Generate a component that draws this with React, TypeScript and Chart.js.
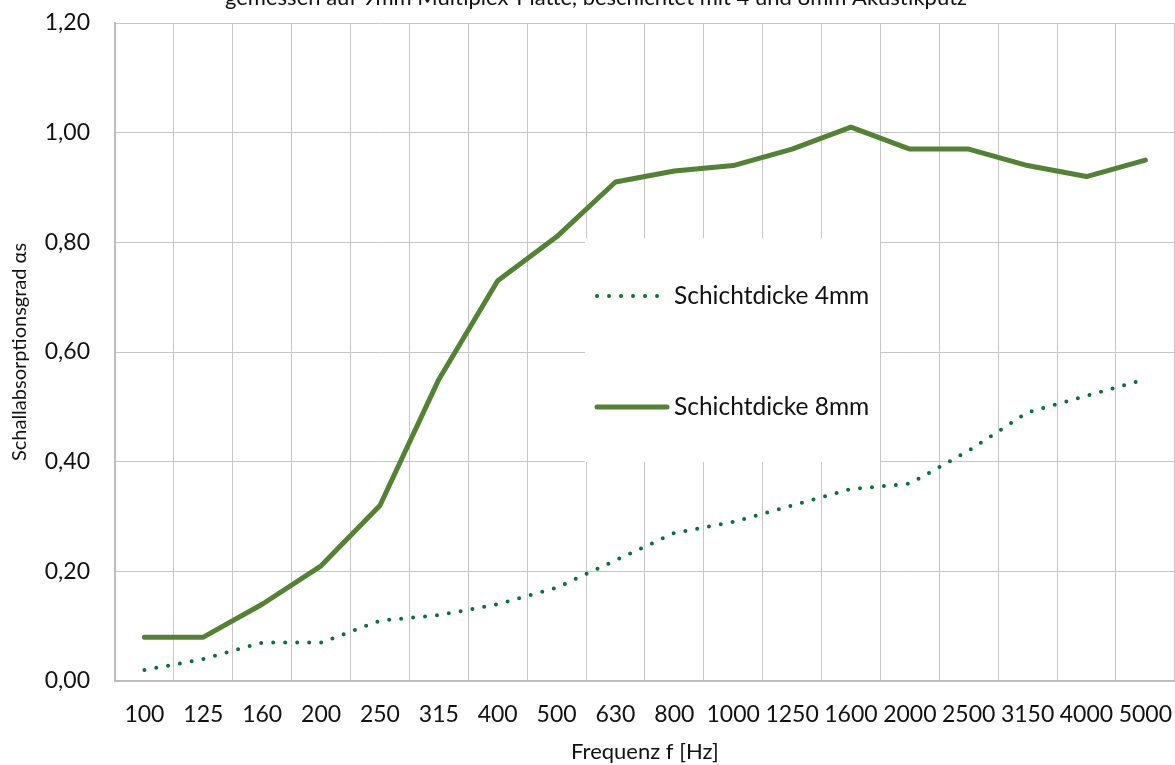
import React, { useEffect, useRef } from "react";
import { Chart, registerables } from "chart.js";

Chart.register(...registerables);

const frequencies = ["100", "125", "160", "200", "250", "315", "400", "500", "630", "800", "1000", "1250", "1600", "2000", "2500", "3150", "4000", "5000"];
const layer4mm = [0.02, 0.04, 0.07, 0.07, 0.11, 0.12, 0.14, 0.17, 0.22, 0.27, 0.29, 0.32, 0.35, 0.36, 0.42, 0.49, 0.52, 0.55];
const layer8mm = [0.08, 0.08, 0.14, 0.21, 0.32, 0.55, 0.73, 0.81, 0.91, 0.93, 0.94, 0.97, 1.01, 0.97, 0.97, 0.94, 0.92, 0.95];
const seriesLabels = ["Schichtdicke 4mm", "Schichtdicke 8mm"];
const chartTitle = "gemessen auf 9mm Multiplex-Platte, beschichtet mit 4 und 8mm Akustikputz";
const xTitle = "Frequenz f [Hz]";
const yTitle = "Schallabsorptionsgrad \u03b1s";

const FONT = "Lato";
const COLOR_4 = "#0b6e3d";
const COLOR_8 = "#548235";

const legendBoxPlugin = {
  id: "legendBox",
  afterDraw(chart: any) {
    const ctx = chart.ctx;
    const x0 = 585, y0 = 258, w = 295, h = 224;
    ctx.save();
    ctx.fillStyle = "#ffffff";
    ctx.fillRect(x0, y0, w, h);
    const rows = [y0 + 58, y0 + 169];
    chart.data.datasets.forEach((ds: any, i: number) => {
      const y = rows[i];
      ctx.beginPath();
      ctx.strokeStyle = ds.borderColor;
      ctx.lineWidth = ds.borderWidth;
      ctx.lineCap = "round";
      ctx.setLineDash(ds.borderDash || []);
      ctx.moveTo(x0 + 12, y);
      ctx.lineTo(x0 + 82, y);
      ctx.stroke();
      ctx.setLineDash([]);
      ctx.fillStyle = "#111";
      ctx.font = `24.5px ${FONT}`;
      ctx.textBaseline = "middle";
      ctx.textAlign = "left";
      ctx.fillText(ds.label, x0 + 89, y);
    });
    ctx.restore();
  },
};

export default function App() {
  const ref = useRef<HTMLCanvasElement | null>(null);
  useEffect(() => {
    if (!ref.current) return;
    const chart = new Chart(ref.current, {
      type: "line",
      data: {
        labels: frequencies,
        datasets: [
          {
            label: seriesLabels[0],
            data: layer4mm,
            borderColor: COLOR_4,
            borderWidth: 4,
            borderDash: [0, 12],
            borderCapStyle: "round",
            pointRadius: 0,
            tension: 0,
            fill: false,
          },
          {
            label: seriesLabels[1],
            data: layer8mm,
            borderColor: COLOR_8,
            borderWidth: 5,
            borderCapStyle: "round",
            borderJoinStyle: "round",
            pointRadius: 0,
            tension: 0,
            fill: false,
          },
        ],
      },
      options: {
        responsive: false,
        animation: false,
        layout: { padding: { left: 0, right: 0, top: 0, bottom: 0 } },
        plugins: {
          legend: { display: false },
          tooltip: { enabled: false },
          title: {
            display: true,
            text: chartTitle,
            color: "#111",
            font: { family: FONT, size: 22, weight: "normal" },
            padding: { top: 5, bottom: 11.6 },
          },
        },
        scales: {
          x: {
            offset: true,
            grid: { offset: true, color: "#c6c6c6", lineWidth: 1, drawTicks: false },
            border: { color: "#bdbdbd", width: 2 },
            ticks: { color: "#111", font: { family: FONT, size: 23 }, padding: 20, maxRotation: 0, autoSkip: false },
            title: { display: true, text: xTitle, color: "#111", font: { family: FONT, size: 22 }, padding: { top: 0, bottom: 0 } },
            afterFit(scale: any) {
              scale.height = 84;
            },
          },
          y: {
            min: 0,
            max: 1.2,
            grid: { color: "#c6c6c6", lineWidth: 1, drawTicks: false },
            border: { color: "#bdbdbd", width: 2 },
            ticks: {
              stepSize: 0.2,
              color: "#111",
              font: { family: FONT, size: 23 },
              padding: 25,
              callback: (v: any) => Number(v).toFixed(2).replace(".", ","),
            },
            title: { display: true, text: yTitle, color: "#111", font: { family: FONT, size: 20 }, padding: { top: 8, bottom: 0 } },
            afterFit(scale: any) {
              scale.width = 115;
            },
          },
        },
      },
      plugins: [legendBoxPlugin],
    });
    return () => chart.destroy();
  }, []);
  return (
    <canvas
      ref={ref}
      width={1192}
      height={785}
      style={{ position: "fixed", left: 0, top: -20, width: 1192, height: 785 }}
    />
  );
}
